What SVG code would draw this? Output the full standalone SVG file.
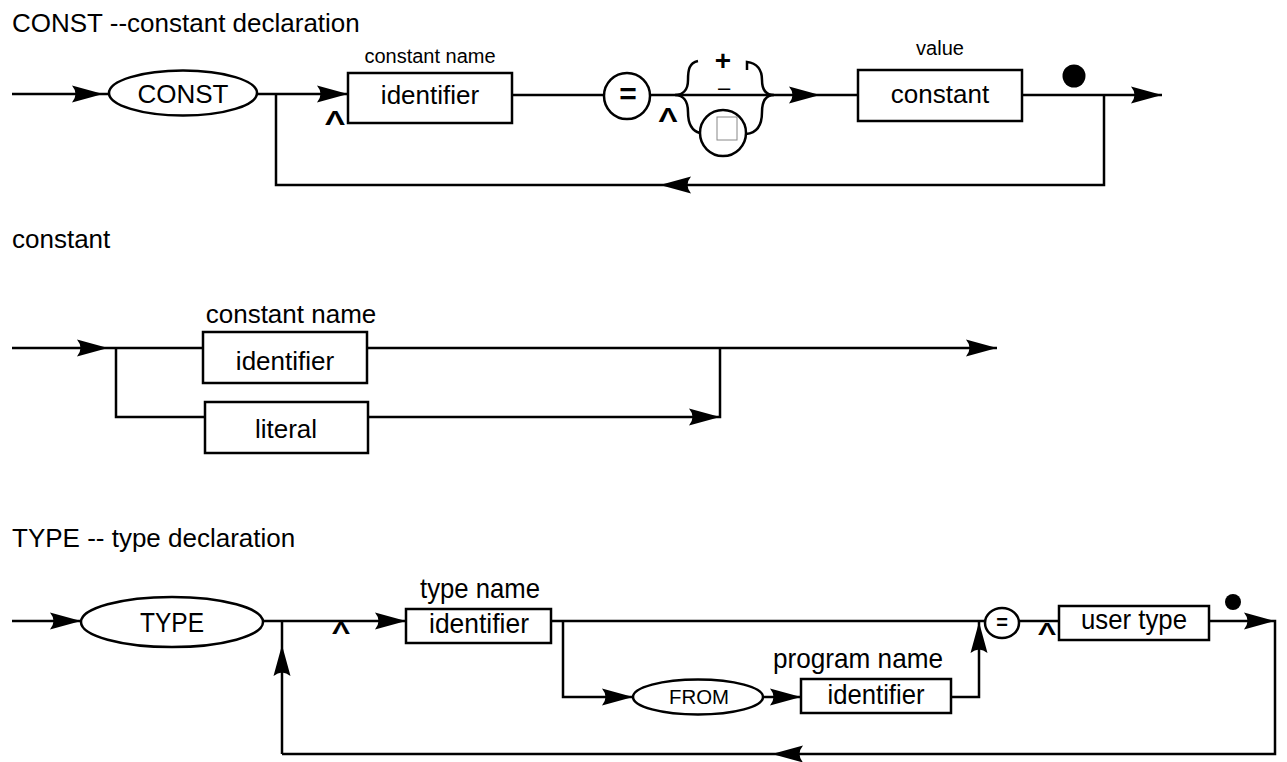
<svg xmlns="http://www.w3.org/2000/svg" width="1287" height="762" viewBox="0 0 1287 762">
<style>
.ln{fill:none;stroke:#000;stroke-width:2.5}
.bx{fill:#fff;stroke:#000;stroke-width:2.5}
text{font-family:"Liberation Sans",Arial,Helvetica,sans-serif;fill:#000}
.ttl{font-size:26px}
.lb{font-size:26px;text-anchor:middle}
.nl{font-size:28px;text-anchor:middle}
.sm{font-size:20px;text-anchor:middle}
.op{font-weight:bold;text-anchor:middle}
</style>
<defs>
<path id="ah" d="M0,0 L-31,-8.5 Q-24,0 -31,8.5 Z" fill="#000"/>
</defs>
<rect width="1287" height="762" fill="#fff"/>
<g id="titles">
<text class="ttl" x="12" y="32">CONST --constant declaration</text>
<text class="ttl" x="12" y="248">constant</text>
<text class="ttl" x="12" y="547">TYPE -- type declaration</text>
</g>
<g id="connectors">
<path class="ln" d="M12,94 H109"/>
<path class="ln" d="M257,94 H348"/>
<path class="ln" d="M276,94 V185 H1104 V95"/>
<path class="ln" d="M512,95 H604"/>
<path class="ln" d="M650,95 H858"/>
<path class="ln" d="M1022,95 H1162"/>
<path class="ln" d="M698,61 C689,63 688,70 688,80 C688,90 683,95 675,95 C683,95 688,101 688,112 C688,125 692,131 700,133"/>
<path class="ln" d="M747,70 V62 C757,63 762,70 762,80 C762,90 766,95 774,95 C766,95 762,101 762,112 C762,125 757,133 746,134"/>
<use href="#ah" transform="translate(103,94)"/>
<use href="#ah" transform="translate(348,94)"/>
<use href="#ah" transform="translate(820,95)"/>
<use href="#ah" transform="translate(1162,95)"/>
<use href="#ah" transform="translate(660,185) rotate(180)"/>
<path class="ln" d="M12,348 H203"/>
<path class="ln" d="M116,348 V417 H205"/>
<path class="ln" d="M367,348 H997"/>
<path class="ln" d="M368,417 H720 V348"/>
<use href="#ah" transform="translate(108,348)"/>
<use href="#ah" transform="translate(720,417)"/>
<use href="#ah" transform="translate(997,348)"/>
<path class="ln" d="M12,621 H81"/>
<path class="ln" d="M263,621 H406"/>
<path class="ln" d="M282,754 V621"/>
<path class="ln" d="M551,621 H985"/>
<path class="ln" d="M563,621 V697 H633"/>
<path class="ln" d="M763,697 H801"/>
<path class="ln" d="M951,697 H979 V621"/>
<path class="ln" d="M1019,621 H1059"/>
<path class="ln" d="M1209,621 H1275 V754 H282"/>
<use href="#ah" transform="translate(81,621)"/>
<use href="#ah" transform="translate(406,621)"/>
<use href="#ah" transform="translate(282,645) rotate(-90)"/>
<use href="#ah" transform="translate(633,697)"/>
<use href="#ah" transform="translate(801,697)"/>
<use href="#ah" transform="translate(979,622) rotate(-90)"/>
<use href="#ah" transform="translate(1275,621)"/>
<use href="#ah" transform="translate(772,754) rotate(180)"/>
</g>
<g id="n-const"><ellipse class="bx" cx="183" cy="93" rx="74" ry="22.5"/><text class="lb" x="183" y="103">CONST</text></g>
<g id="n-caret1"><text class="op" x="335" y="125" font-size="21" textLength="20" lengthAdjust="spacingAndGlyphs">Λ</text></g>
<g id="n-ident1"><text class="sm" x="430" y="63">constant name</text><rect class="bx" x="348" y="73" width="164" height="50"/><text class="lb" x="430" y="104">identifier</text></g>
<g id="n-eq1"><circle class="bx" cx="627" cy="96" r="23"/><text class="op" x="628" y="104" font-size="30">=</text></g>
<g id="n-caret2"><text class="op" x="668" y="122" font-size="20" textLength="19" lengthAdjust="spacingAndGlyphs">Λ</text></g>
<g id="n-plus"><text class="op" x="723" y="70" font-size="28">+</text></g>
<g id="n-minus"><text x="724" y="95" font-size="22" text-anchor="middle" fill="#333">–</text></g>
<g id="n-sign"><circle class="bx" cx="723" cy="133" r="23"/><rect x="717" y="117" width="20" height="23" fill="none" stroke="#888" stroke-width="1"/></g>
<g id="n-constant"><text class="sm" x="940" y="55">value</text><rect class="bx" x="858" y="70" width="164" height="51"/><text class="lb" x="940" y="103">constant</text></g>
<g id="n-dot1"><circle cx="1074" cy="76" r="11.5"/></g>
<g id="n-ident2"><text class="lb" x="291" y="323">constant name</text><rect class="bx" x="203" y="332" width="164" height="51"/><text class="lb" x="285" y="370">identifier</text></g>
<g id="n-literal"><rect class="bx" x="205" y="402" width="163" height="51"/><text class="lb" x="286" y="438">literal</text></g>
<g id="n-type"><ellipse class="bx" cx="172" cy="622" rx="91" ry="25"/><text class="nl" x="172" y="632" textLength="64" lengthAdjust="spacingAndGlyphs">TYPE</text></g>
<g id="n-caret3"><text class="op" x="341" y="634" font-size="17" textLength="18" lengthAdjust="spacingAndGlyphs">Λ</text></g>
<g id="n-ident3"><text class="nl" x="480" y="598" textLength="120" lengthAdjust="spacingAndGlyphs">type name</text><rect class="bx" x="406" y="609" width="145" height="34"/><text class="nl" x="479" y="633" textLength="100" lengthAdjust="spacingAndGlyphs">identifier</text></g>
<g id="n-from"><ellipse class="bx" cx="698" cy="697" rx="65" ry="17.5"/><text x="699" y="704" font-size="21" text-anchor="middle" textLength="60" lengthAdjust="spacingAndGlyphs">FROM</text></g>
<g id="n-ident4"><text class="nl" x="858" y="668" textLength="170" lengthAdjust="spacingAndGlyphs">program name</text><rect class="bx" x="801" y="679" width="150" height="34"/><text class="nl" x="876" y="704" textLength="97" lengthAdjust="spacingAndGlyphs">identifier</text></g>
<g id="n-eq2"><ellipse class="bx" cx="1002" cy="623" rx="17" ry="15"/><text class="op" x="1002" y="629" font-size="20">=</text></g>
<g id="n-caret4"><text class="op" x="1047" y="635" font-size="17" textLength="18" lengthAdjust="spacingAndGlyphs">Λ</text></g>
<g id="n-usertype"><rect class="bx" x="1059" y="606" width="150" height="34"/><text class="nl" x="1134" y="629" textLength="106" lengthAdjust="spacingAndGlyphs">user type</text></g>
<g id="n-dot2"><circle cx="1233" cy="602" r="8"/></g>
</svg>
